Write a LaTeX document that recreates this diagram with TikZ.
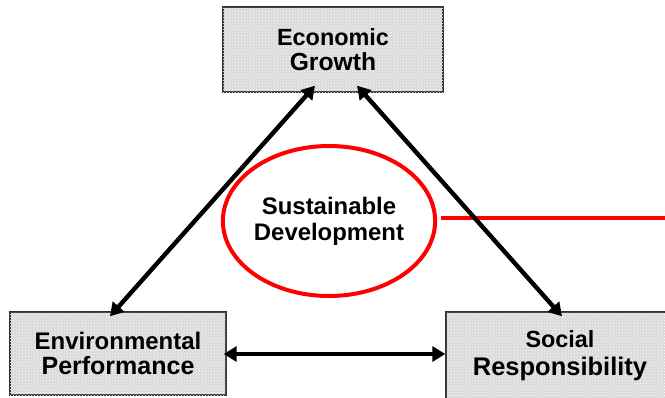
\documentclass[tikz,border=0pt]{standalone}
\usepackage{fontspec}
\setmainfont{Liberation Sans}
\usetikzlibrary{arrows.meta,shapes.geometric,patterns}
\begin{document}
\begin{tikzpicture}[x=1pt,y=-1pt,
  box/.style={draw=black!80, line width=1.4pt, fill=black!15,
    postaction={pattern=crosshatch dots, pattern color=white},
    inner sep=0pt, align=center},
  dbl/.style={line width=4.4pt, {Triangle[length=13pt,width=15pt]}-{Triangle[length=13pt,width=15pt]}},
  sdev/.style={ellipse, draw=red, line width=4pt, inner sep=0pt, align=center}]
\useasboundingbox (0,0) rectangle (665,397);
\clip (0,0) rectangle (665,397);
\node[box, minimum width=220pt, minimum height=85pt,
  font=\fontsize{23.4}{25}\selectfont\bfseries] (eco) at (333,49.5)
  {Economic\\\fontsize{24.7}{25}\selectfont Growth};
\node[box, minimum width=216pt, minimum height=83pt,
  font=\fontsize{24}{24.5}\selectfont\bfseries] (env) at (118,353.5)
  {Environmental\\\fontsize{25}{24.5}\selectfont Performance};
\node[box, minimum width=228pt, minimum height=88pt,
  font=\fontsize{23.4}{28}\selectfont\bfseries] (soc) at (560,356)
  {Social\\\fontsize{25.5}{28}\selectfont Responsibility};
\node[sdev, minimum width=212pt, minimum height=150pt,
  font=\fontsize{23.9}{26}\selectfont\bfseries] (sd) at (329,221)
  {Sustainable\\Development};
\coordinate (rend) at (665,218);
\draw[red, line width=3.6pt] ([xshift=4pt,yshift=3pt]sd.east) -- (rend);
\draw[dbl] ([xshift=-18pt,yshift=7pt]eco.south) -- ([xshift=-8pt,yshift=-5pt]env.north);
\draw[dbl] ([xshift=24pt,yshift=7pt]eco.south) -- ([xshift=2pt,yshift=-5pt]soc.north);
\draw[dbl] ([xshift=-3pt,yshift=-0.5pt]env.east) -- ([yshift=2pt]soc.west);
\end{tikzpicture}
\end{document}
